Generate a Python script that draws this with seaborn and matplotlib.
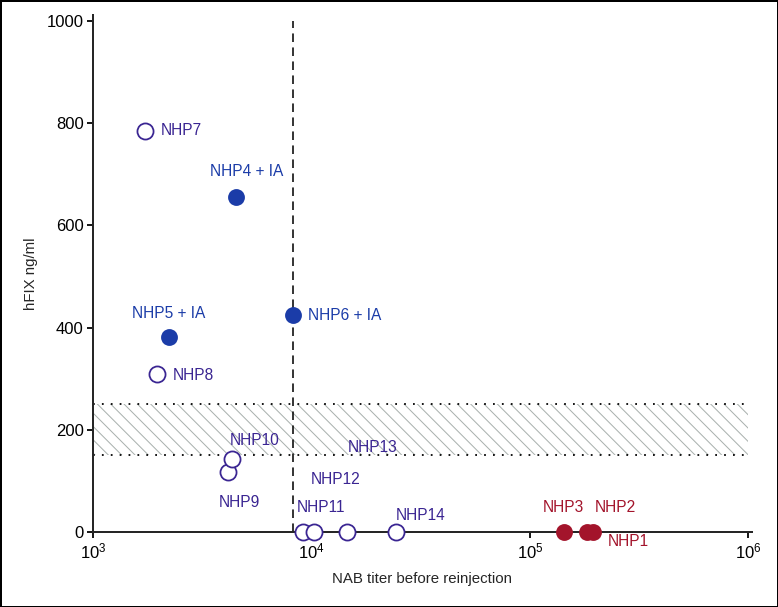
import numpy as np
import pandas as pd
import matplotlib
matplotlib.use("Agg")
import matplotlib.pyplot as plt
import matplotlib.ticker as mticker
import seaborn as sns

# data
names = ["NHP7", "NHP8", "NHP9", "NHP10", "NHP11", "NHP12", "NHP13", "NHP14",
         "NHP4 + IA", "NHP5 + IA", "NHP6 + IA",
         "NHP3", "NHP2", "NHP1"]
titers = [1730, 1970, 4160, 4350, 9180, 10300, 14500, 24500,
          4530, 2230, 8200,
          143000, 182000, 195000]
hfix = [785, 310, 117, 143, 0, 0, 0, 0,
        656, 381, 424,
        0, 0, 0]
groups = ["open"] * 8 + ["ia"] * 3 + ["red"] * 3

cutoff_titer = 8200
band_low, band_high = 150, 250

# label offsets in pixels (dx, dy) and alignment
label_offsets = {
    "NHP7": (16, 0, "left"), "NHP8": (15, -2, "left"),
    "NHP9": (11, -30, "center"), "NHP10": (22, 18, "center"),
    "NHP11": (-7, 24, "left"), "NHP12": (21, 52, "center"),
    "NHP13": (26, 85, "center"), "NHP14": (24, 17, "center"),
    "NHP4 + IA": (10, 25, "center"), "NHP5 + IA": (0, 24, "center"),
    "NHP6 + IA": (15, 0, "left"),
    "NHP3": (0, 24, "center"), "NHP2": (29, 24, "center"),
    "NHP1": (35, -9, "center"),
}

colors = {"open": "#3a2592", "ia": "#1b3ca8", "red": "#a3142b"}

df = pd.DataFrame({"name": names, "titer": titers, "hfix": hfix, "group": groups})

sns.set_style("ticks")
plt.rcParams["font.family"] = ["Liberation Sans", "DejaVu Sans"]
plt.rcParams["hatch.linewidth"] = 0.9
plt.rcParams["mathtext.fontset"] = "custom"
plt.rcParams["mathtext.rm"] = "Liberation Sans"

DPI = 80
fig = plt.figure(figsize=(778 / DPI, 607 / DPI), dpi=DPI)
fig.patch.set_edgecolor("black")
fig.patch.set_linewidth(2.5)
ax = fig.add_axes([93 / 778, 75 / 607, 659 / 778, 517 / 607])

# hatched band and its dotted edges
ax.fill_between([1e3, 1e6], band_low, band_high, facecolor="none",
                edgecolor="#a9b0ae", hatch="\\\\", linewidth=0, zorder=1)
for yv in (band_low, band_high):
    ax.plot([1e3, 1e6], [yv, yv], color="black", linestyle=(0, (1, 4)),
            linewidth=1.6, zorder=2)

ax.plot([cutoff_titer, cutoff_titer], [0, 1000], color="black",
        linestyle=(0, (5.5, 3.5)), linewidth=1.4, zorder=2)

sub = df[df.group == "open"]
sns.scatterplot(data=sub, x="titer", y="hfix", ax=ax, s=210, marker="o",
                facecolors="white", edgecolor=colors["open"], linewidth=1.6,
                zorder=4, clip_on=False, legend=False)
for g in ("ia", "red"):
    sub = df[df.group == g]
    sns.scatterplot(data=sub, x="titer", y="hfix", ax=ax, s=230, marker="o",
                    color=colors[g], edgecolor=colors[g], linewidth=0,
                    zorder=4, clip_on=False, legend=False)

for _, row in df.iterrows():
    dx, dy, ha = label_offsets[row["name"]]
    ax.annotate(row["name"], (row["titer"], row["hfix"]), xytext=(dx, dy),
                textcoords="offset pixels", ha=ha, va="center",
                fontsize=14, color=colors[row["group"]], zorder=5,
                annotation_clip=False)

ax.set_xscale("log")
ax.set_xlim(1e3, 1.04e6)
ax.set_ylim(0, 1012)
ax.set_xticks([1e3, 1e4, 1e5, 1e6])
ax.xaxis.set_minor_locator(mticker.NullLocator())
ax.set_yticks([0, 200, 400, 600, 800, 1000])

sns.despine(ax=ax)
for sp in ("left", "bottom"):
    ax.spines[sp].set_linewidth(1.8)
ax.tick_params(axis="both", length=5, width=1.6, labelsize=15, color="black",
               labelcolor="black")

ax.set_xlabel("NAB titer before reinjection", fontsize=13.5, labelpad=10)
ax.set_ylabel("hFIX ng/ml", fontsize=13.5, labelpad=8)

fig.savefig("out.png", dpi=DPI)
